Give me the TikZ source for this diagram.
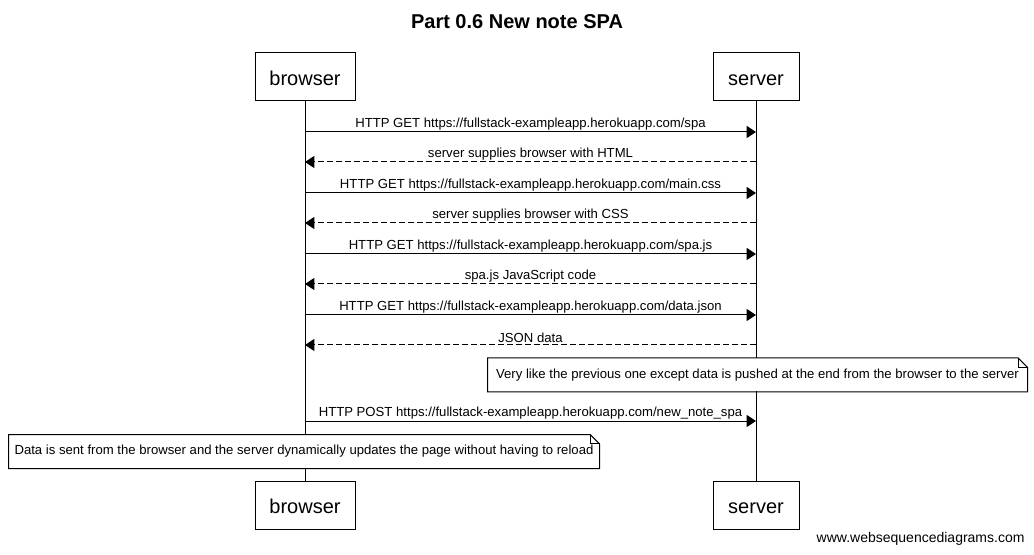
\documentclass[tikz,border=0pt]{standalone}
\usepackage{fontspec}
\setmainfont{Liberation Sans}
\usetikzlibrary{arrows.meta,backgrounds}
\begin{document}
\begin{tikzpicture}[x=0.75pt,y=-0.75pt,line width=0.75pt,
  actor/.style={draw,fill=white,minimum height=36pt,inner sep=0pt,text height=12.8pt,text depth=0pt,font=\fontsize{15}{18}\selectfont},
  msg/.style={-{Triangle[length=7pt,width=9pt]}},
  ret/.style={msg,dash pattern=on 4.5pt off 2.25pt},
  lbl/.style={above,inner sep=1.2pt,font=\fontsize{9.85}{12}\selectfont},
  notebox/.style={fill=white,inner sep=0pt,minimum height=24.75pt,font=\fontsize{9.85}{12}\selectfont},
  lifeline/.style={draw}]
\useasboundingbox (0,0) rectangle (1034,555);
\node[font=\bfseries\fontsize{15}{18}\selectfont] (title) at (517,22) {Part 0.6 New note SPA};
\node[actor,minimum width=75pt] (bt) at (305,77) {browser};
\node[actor,minimum width=64.5pt] (st) at (756,77) {server};
\node[actor,minimum width=75pt] (bb) at (305,505) {browser};
\node[actor,minimum width=64.5pt] (sb) at (756,505) {server};
\begin{scope}[on background layer]
\draw[lifeline] (bt.south) -- (bb.north);
\draw[lifeline] (st.south) -- (sb.north);
\end{scope}
\foreach \i/\y in {1/132,2/162,3/193,4/223,5/254,6/284,7/315,8/345,9/421}{
  \coordinate (b\i) at (305,\y);
  \coordinate (s\i) at (756,\y);
}
\draw[msg] (b1) -- (s1) node[lbl,midway] {HTTP GET https://fullstack-exampleapp.herokuapp.com/spa};
\draw[ret] (s2) -- (b2) node[lbl,midway] {server supplies browser with HTML};
\draw[msg] (b3) -- (s3) node[lbl,midway] {HTTP GET https://fullstack-exampleapp.herokuapp.com/main.css};
\draw[ret] (s4) -- (b4) node[lbl,midway] {server supplies browser with CSS};
\draw[msg] (b5) -- (s5) node[lbl,midway] {HTTP GET https://fullstack-exampleapp.herokuapp.com/spa.js};
\draw[ret] (s6) -- (b6) node[lbl,midway] {spa.js JavaScript code};
\draw[msg] (b7) -- (s7) node[lbl,midway] {HTTP GET https://fullstack-exampleapp.herokuapp.com/data.json};
\draw[ret] (s8) -- (b8) node[lbl,midway] {JSON data};
\node[notebox,minimum width=404.25pt] (n1) at (757.5,375) {Very like the previous one except data is pushed at the end from the browser to the server};
\draw (n1.north west) -- ([xshift=-7pt]n1.north east) -- ([yshift=-7pt]n1.north east) -- (n1.south east) -- (n1.south west) -- cycle;
\draw ([xshift=-7pt]n1.north east) |- ([yshift=-7pt]n1.north east);
\draw[msg] (b9) -- (s9) node[lbl,midway] {HTTP POST https://fullstack-exampleapp.herokuapp.com/new\_note\_spa};
\node[notebox,minimum width=442.5pt] (n2) at (304,451.5) {Data is sent from the browser and the server dynamically updates the page without having to reload};
\draw (n2.north west) -- ([xshift=-7pt]n2.north east) -- ([yshift=-7pt]n2.north east) -- (n2.south east) -- (n2.south west) -- cycle;
\draw ([xshift=-7pt]n2.north east) |- ([yshift=-7pt]n2.north east);
\node[anchor=east,inner sep=0pt,font=\fontsize{10.5}{12}\selectfont] (wm) at (1025,539) {www.websequencediagrams.com};
\end{tikzpicture}
\end{document}
